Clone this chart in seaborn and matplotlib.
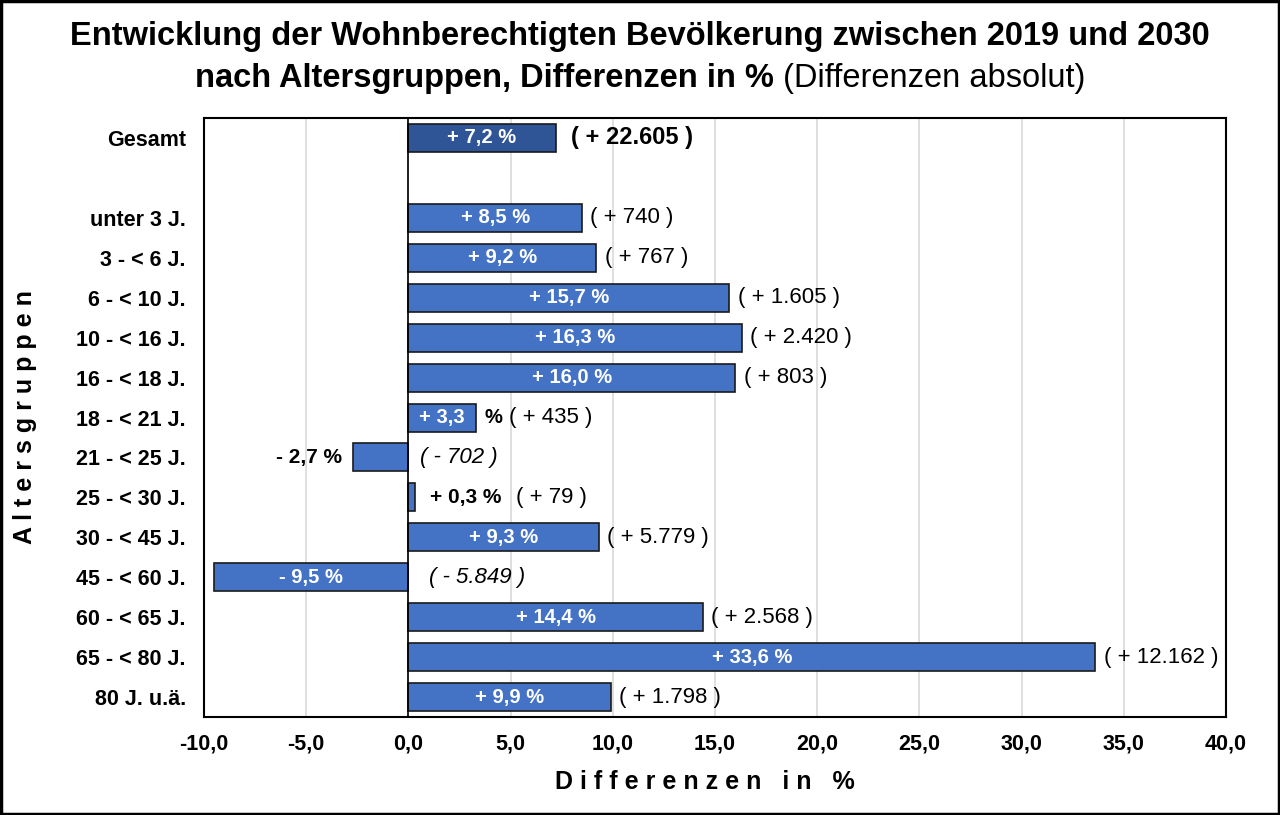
import numpy as np
import pandas as pd
import matplotlib
matplotlib.use("Agg")
import matplotlib.pyplot as plt
from matplotlib.patches import Rectangle
import seaborn as sns

# Daten
gruppen = ['Gesamt', 'unter 3 J.', '3 - < 6 J.', '6 - < 10 J.', '10 - < 16 J.',
           '16 - < 18 J.', '18 - < 21 J.', '21 - < 25 J.', '25 - < 30 J.',
           '30 - < 45 J.', '45 - < 60 J.', '60 - < 65 J.', '65 - < 80 J.', '80 J. u.ä.']
werte = [7.2, 8.5, 9.2, 15.7, 16.3, 16.0, 3.3, -2.7, 0.3, 9.3, -9.5, 14.4, 33.6, 9.9]
prozent_texte = ['+ 7,2 %', '+ 8,5 %', '+ 9,2 %', '+ 15,7 %', '+ 16,3 %', '+ 16,0 %',
                 '+ 3,3', '- 2,7 %', '+ 0,3 %', '+ 9,3 %', '- 9,5 %', '+ 14,4 %',
                 '+ 33,6 %', '+ 9,9 %']
# Lage der Prozentlabels: innen, aussen oder geteilt (wie im Original)
label_lage = ['in', 'in', 'in', 'in', 'in', 'in', 'split', 'out', 'out',
              'in', 'in', 'in', 'in', 'in']
absolut_texte = ['( + 22.605 )', '( + 740 )', '( + 767 )', '( + 1.605 )', '( + 2.420 )',
                 '( + 803 )', '( + 435 )', '( - 702 )', '( + 79 )', '( + 5.779 )',
                 '( - 5.849 )', '( + 2.568 )', '( + 12.162 )', '( + 1.798 )']
x_ticks = [-10, -5, 0, 5, 10, 15, 20, 25, 30, 35, 40]

# Reihenfolge mit Leerzeile nach "Gesamt"
reihenfolge = ['Gesamt', ' '] + gruppen[1:]

sns.set_style('white')
plt.rcParams['font.family'] = ['Liberation Sans', 'DejaVu Sans']
plt.rcParams['text.color'] = 'black'
plt.rcParams['axes.labelcolor'] = 'black'
plt.rcParams['xtick.color'] = 'black'
plt.rcParams['ytick.color'] = 'black'

df = pd.DataFrame({'gruppe': gruppen, 'wert': werte})
farben = {g: '#4472C4' for g in gruppen}
farben['Gesamt'] = '#2F5597'

fig = plt.figure(figsize=(12.8, 8.15), dpi=100)
ax = fig.add_axes([0.1594, 0.1202, 0.7984, 0.735])

sns.barplot(data=df, y='gruppe', x='wert', hue='gruppe', order=reihenfolge,
            palette=farben, saturation=1, legend=False, width=0.7, orient='h',
            edgecolor='#1a1a1a', linewidth=1.2, ax=ax, zorder=3)

ax.set_xlim(-10, 40)
ax.set_ylim(len(reihenfolge) - 0.5, -0.5)
ax.set_xticks(x_ticks)
ax.set_xticklabels([f"{v:.1f}".replace('.', ',') for v in x_ticks], fontweight='bold')
ax.tick_params(axis='x', length=0, pad=12, labelsize=15.5)
ax.tick_params(axis='y', length=0, pad=13)
for lab in ax.get_yticklabels():
    lab.set_fontsize(15.5)
    lab.set_fontweight('bold')

ax.grid(axis='x', color='#d9d9d9', linewidth=1.2, zorder=0)
ax.axvline(0, color='black', linewidth=1.2, zorder=4)
for sp in ax.spines.values():
    sp.set_color('black')
    sp.set_linewidth(1.5)

ax.set_xlabel('D i f f e r e n z e n   i n   %', fontsize=18, fontweight='bold')
ax.set_ylabel('A l t e r s g r u p p e n', fontsize=18, fontweight='bold')
ax.xaxis.set_label_coords(0.49, -0.088)
ax.yaxis.set_label_coords(-0.163, 0.5)

# Beschriftungen
for g, w, pt, lage, at in zip(gruppen, werte, prozent_texte, label_lage, absolut_texte):
    y = reihenfolge.index(g)
    ist_gesamt = g == 'Gesamt'
    abs_style = 'italic' if w < 0 else 'normal'
    abs_weight = 'bold' if ist_gesamt else 'normal'
    if lage == 'in':
        ax.text(w / 2, y, pt, ha='center', va='center', color='white',
                fontsize=14.5, fontweight='bold', zorder=5)
        if w >= 0:
            ax.annotate(at, xy=(w, y), xytext=(11 if ist_gesamt else 6, 0),
                        textcoords='offset points', ha='left', va='center',
                        fontsize=17 if ist_gesamt else 16, fontstyle=abs_style,
                        fontweight=abs_weight)
        else:
            ax.annotate(at, xy=(0, y), xytext=(15, 0), textcoords='offset points',
                        ha='left', va='center', fontsize=16, fontstyle=abs_style)
    elif lage == 'split':
        ax.text(w / 2, y, pt, ha='center', va='center', color='white',
                fontsize=14.5, fontweight='bold', zorder=5)
        t = ax.annotate('%', xy=(w, y), xytext=(6, 0), textcoords='offset points',
                        ha='left', va='center', fontsize=14.5, fontweight='bold')
        ax.annotate(at, xy=(1, 0.5), xycoords=t, xytext=(5, 0),
                    textcoords='offset points', ha='left', va='center', fontsize=16)
    else:
        if w < 0:
            ax.annotate(pt, xy=(w, y), xytext=(-8, 0), textcoords='offset points',
                        ha='right', va='center', fontsize=15, fontweight='bold')
            ax.annotate(at, xy=(0, y), xytext=(8, 0), textcoords='offset points',
                        ha='left', va='center', fontsize=16, fontstyle=abs_style)
        else:
            t = ax.annotate(pt, xy=(w, y), xytext=(11, 0), textcoords='offset points',
                            ha='left', va='center', fontsize=15, fontweight='bold')
            ax.annotate(at, xy=(1, 0.5), xycoords=t, xytext=(11, 0),
                        textcoords='offset points', ha='left', va='center', fontsize=16)

# Titel
fig.text(0.5, 1 - 37 / 815, 'Entwicklung der Wohnberechtigten Bevölkerung zwischen 2019 und 2030',
         ha='center', va='center', fontsize=23.5, fontweight='bold')
r = fig.canvas.get_renderer()
t1 = fig.text(0, 1 - 78 / 815, 'nach Altersgruppen, Differenzen in %', ha='left', va='center',
              fontsize=23.5, fontweight='bold')
t2 = fig.text(0, 1 - 78 / 815, ' (Differenzen absolut)', ha='left', va='center', fontsize=23.5)
w1 = t1.get_window_extent(r).width
w2 = t2.get_window_extent(r).width
x0 = (1280 - w1 - w2) / 2
t1.set_x(x0 / 1280)
t2.set_x((x0 + w1) / 1280)

# Rahmen um die Grafik
fig.patches.append(Rectangle((0.001, 0.001), 0.998, 0.998, transform=fig.transFigure,
                             fill=False, edgecolor='black', linewidth=2.5))

fig.savefig('out.png', dpi=100)
